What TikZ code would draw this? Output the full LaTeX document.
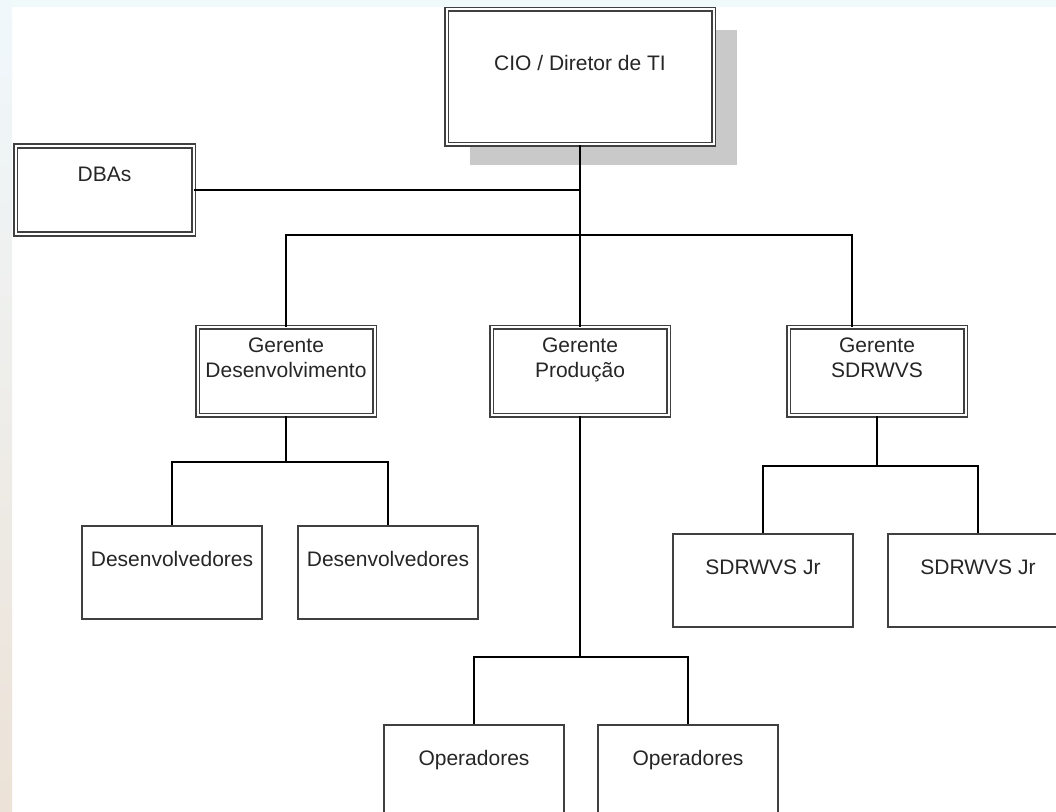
\documentclass[tikz,border=0pt]{standalone}
\usepackage{fontspec}
\setmainfont{Liberation Sans}
\usetikzlibrary{shadows}

\definecolor{fundotopo}{RGB}{240,250,250}
\definecolor{fundoazul}{RGB}{240,248,252}
\definecolor{fundomeio}{RGB}{238,237,226}
\definecolor{fundobege}{RGB}{236,226,215}

\tikzset{
  chefe/.style={draw=black!75, double, double distance=1.5pt, line width=1.3pt,
    fill=white, inner sep=0pt, align=center, text=black!85},
  folha/.style={draw=black!75, line width=1.2pt, fill=white, inner sep=0pt,
    align=center, text=black!85, minimum width=135.4pt, minimum height=70.1pt,
    text height=30.75pt, text depth=39.35pt},
  gerente/.style={chefe, minimum width=132.75pt, minimum height=66pt,
    text height=37.5pt, text depth=28.5pt},
  liga/.style={black, line width=1.2pt}
}

\begin{document}
\begin{tikzpicture}[x=0.75pt, y=-0.75pt, font=\fontsize{15.75}{18.75}\selectfont]
    \useasboundingbox (0,0) rectangle (1056,812);
    \fill[white] (0,0) rectangle (1056,812);
    \fill[fundotopo] (0,0) rectangle (1056,7);
    \shade[top color=fundoazul, middle color=fundomeio, bottom color=fundobege] (0,0) rectangle (12,812);
    \clip (0,0) rectangle (1056,812);

    % topo
    \node[chefe, minimum width=200.25pt, minimum height=101.25pt, text height=45.75pt, text depth=55.5pt,
      drop shadow={shadow xshift=17.25pt, shadow yshift=-15.75pt, fill=black!21, opacity=1}]
      (cio) at (580,77) {CIO / Diretor de TI};
    \node[chefe, minimum width=133.5pt, minimum height=66pt, text height=27pt, text depth=39pt]
      (dbas) at (104.5,190) {DBAs};

    % gerentes
    \node[gerente] (gdev) at (286,371.5) {Gerente\\Desenvolvimento};
    \node[gerente] (gprod) at (580,371.5) {Gerente\\Produção};
    \node[gerente] (gsdr) at (877,371.5) {Gerente\\SDRWVS};

    % equipes
    \node[folha] (dev1) at (172,572.5) {Desenvolvedores};
    \node[folha] (dev2) at (388,572.5) {Desenvolvedores};
    \node[folha] (jr1) at (763,580.5) {SDRWVS Jr};
    \node[folha] (jr2) at (978,580.5) {SDRWVS Jr};
    \node[folha] (op1) at (474,771.5) {Operadores};
    \node[folha] (op2) at (688,771.5) {Operadores};

    \coordinate (barra) at (580,235);
    \coordinate (nodev) at (286,462);
    \coordinate (nosdr) at (877,466);
    \coordinate (noprod) at (580,657);

    \draw[liga] (cio.south) -- (gprod.north);
    \draw[liga] (dbas.east) -- (dbas.east -| cio.south);
    \draw[liga] (gdev.north) |- (barra) -| ([xshift=-18.75pt]gsdr.north);

    \draw[liga] (gdev.south) -- (nodev);
    \draw[liga] (dev1.north) |- (nodev) -| (dev2.north);
    \draw[liga] (gsdr.south) -- (nosdr);
    \draw[liga] (jr1.north) |- (nosdr) -| (jr2.north);
    \draw[liga] (gprod.south) -- (noprod);
    \draw[liga] (op1.north) |- (noprod) -| (op2.north);
\end{tikzpicture}
\end{document}
